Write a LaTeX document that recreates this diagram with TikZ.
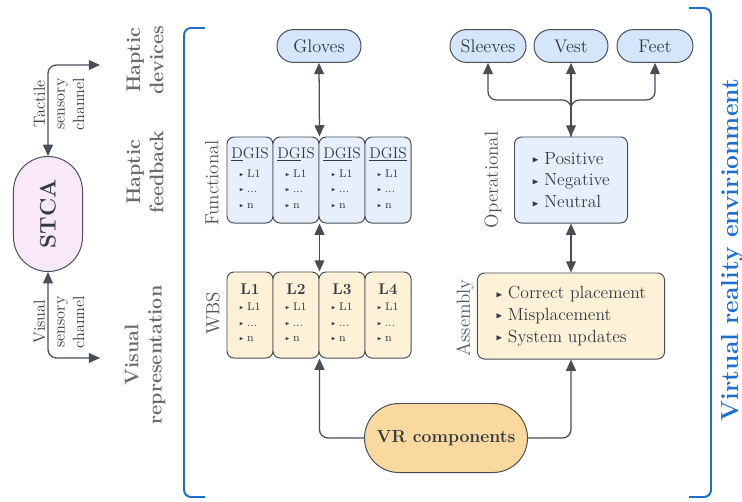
\documentclass[tikz,border=0pt]{standalone}
\usepackage{fontspec}
\usepackage{amssymb}
\usepackage{graphicx}
\usetikzlibrary{arrows.meta,shapes.misc}

\definecolor{edge}{RGB}{72,77,86}
\definecolor{ink}{RGB}{52,57,66}
\definecolor{mute}{RGB}{102,105,110}
\definecolor{sidegray}{RGB}{80,84,90}
\definecolor{vrblue}{RGB}{30,110,210}
\definecolor{devfill}{RGB}{214,230,250}
\definecolor{fbfill}{RGB}{230,239,252}
\definecolor{repfill}{RGB}{253,242,216}
\definecolor{vrfill}{RGB}{249,217,158}
\definecolor{stcafill}{RGB}{248,232,250}

\newcommand{\bul}{\raisebox{0.2ex}{\scalebox{0.5}{$\blacktriangleright$}}\hspace{0.3em}}
\newcommand{\lvlitems}{{\fontsize{8}{11}\selectfont
  \begin{tabular}[t]{@{}l@{}}\bul L1\\ \bul ...\\ \bul n\end{tabular}}}

\begin{document}
\begin{tikzpicture}[x=0.025cm,y=-0.025cm,>={Triangle[length=8pt,width=7pt]},
box/.style={draw=edge,line width=0.7pt,text=ink,inner sep=0pt},
device/.style={box,rounded rectangle,fill=devfill,minimum width=1.9cm,minimum height=0.82cm,font=\fontsize{13}{15}\selectfont},
dgis/.style={box,rounded corners=5pt,fill=fbfill,minimum width=1.15cm,minimum height=2.15cm,align=center,font=\fontsize{11}{13.5}\selectfont},
lvl/.style={dgis,fill=repfill,font=\fontsize{11}{12}\selectfont},
panel/.style={box,rounded corners=5pt,minimum height=2.15cm,align=left,font=\fontsize{12.5}{15.5}\selectfont},
link/.style={draw=edge,line width=0.9pt,rounded corners=6pt},
stage/.style={text=mute,rotate=90,align=center,font=\bfseries\fontsize{14}{16.5}\selectfont},
side/.style={text=sidegray,rotate=90,font=\fontsize{13.5}{15}\selectfont},
chan/.style={text=ink,rotate=90,align=center,font=\fontsize{11.5}{14}\selectfont},
frame/.style={draw=vrblue,line width=1.4pt,rounded corners=5pt}]
\useasboundingbox (0,0) rectangle (742,501);

% sensory channels
\node[box,rounded rectangle,fill=stcafill,rotate=90,minimum width=2.875cm,minimum height=1.725cm,font=\bfseries\fontsize{16}{18}\selectfont] (stca) at (48,214) {STCA};
\coordinate (tac) at (100,65);
\coordinate (vis) at (100,358);
\draw[link,<->] (tac) -| (stca.east);
\draw[link,<->] (stca.west) |- (vis);
\node[chan] (tacl) at (59,104) {Tactile\\sensory\\channel};
\node[chan] (visl) at (59,322) {Visual\\sensory\\channel};

\node[stage] (devl) at (145,60) {Haptic\\devices};
\node[stage] (fbl) at (145,172) {Haptic\\feedback};
\node[stage] (repl) at (145,355) {Visual\\representation};

% virtual reality environment
\draw[frame] (205,28) -- (184,28) -- (184,497) -- (205,497);
\draw[frame] (689,8) -- (711,8) -- (711,497) -- (689,497);
\node[text=vrblue,rotate=90,font=\bfseries\fontsize{17.5}{20}\selectfont] (env) at (732,250) {Virtual reality envirionment};

% functional side
\node[device,minimum width=2.1cm] (gloves) at (319,46) {Gloves};
\node[dgis] (dgisa) at (250,180) {\underline{D}GIS\\\lvlitems};
\node[dgis] (dgisb) at (296,180) {\underline{DG}IS\\\lvlitems};
\node[dgis] (dgisc) at (342,180) {\underline{DGI}S\\\lvlitems};
\node[dgis] (dgisd) at (388,180) {\underline{DGIS}\\\lvlitems};
\node[lvl] (lvla) at (250,315) {\textbf{L1}\\\lvlitems};
\node[lvl] (lvlb) at (296,315) {\textbf{L2}\\\lvlitems};
\node[lvl] (lvlc) at (342,315) {\textbf{L3}\\\lvlitems};
\node[lvl] (lvld) at (388,315) {\textbf{L4}\\\lvlitems};
\node[side] (funl) at (212,183) {Functional};
\node[side] (wbsl) at (213,313) {WBS};

% operational side
\node[device] (sleeves) at (488,46) {Sleeves};
\node[device,minimum width=1.85cm] (vest) at (571,46) {Vest};
\node[device] (feet) at (655,46) {Feet};
\coordinate (junc) at (571,100);
\node[panel,fill=fbfill,minimum width=2.825cm] (oper) at (571,180) {\bul Positive\\\bul Negative\\\bul Neutral};
\node[panel,fill=repfill,minimum width=4.675cm] (asm) at (571,316) {\bul Correct placement\\\bul Misplacement\\\bul System updates};
\node[side] (operl) at (493,180) {Operational};
\node[side] (asml) at (465,318) {Assembly};

\node[box,rounded rectangle,fill=vrfill,minimum width=4.075cm,minimum height=1.725cm,font=\bfseries\fontsize{12.5}{14}\selectfont] (vr) at (446,438) {VR components};

% connectors
\draw[link,<->] (gloves.south) -- (dgisb.north east);
\draw[link,<->] (dgisb.south east) -- (lvlb.north east);
\draw[link,->] (vr.west) -| (lvlb.south east);
\draw[link,->] (vr.east) -| (asm.south);
\draw[link,<->] (oper.south) -- (asm.north);
\draw[link,<->] (vest.south) -- (oper.north);
\draw[link,<-] (sleeves.south) |- (junc) -- (oper.north);
\draw[link,<-] (feet.south) |- (junc) -- (oper.north);
\end{tikzpicture}
\end{document}
